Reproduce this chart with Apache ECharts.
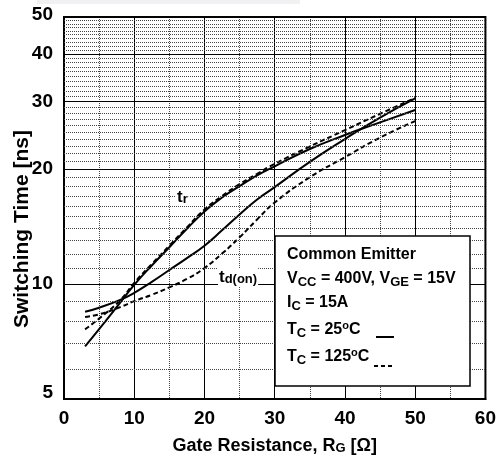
<!DOCTYPE html>
<html>
<head>
<meta charset="utf-8">
<script src="https://cdn.jsdelivr.net/npm/echarts@6/dist/echarts.min.js"></script>
<style>
html, body { margin: 0; padding: 0; background: #fff; }
#chart { width: 499px; height: 460px; }
</style>
</head>
<body>
<div id="chart"></div>
<script>
// gate resistance [ohm]
var rg = [3, 5, 8, 10, 12.5, 15, 17.5, 20, 22.5, 25, 27.5, 30, 35, 40, 45, 50];
// switching times [ns]
var trCold = [6.87, 7.62, 8.94, 9.95, 11.18, 12.48, 13.95, 15.49, 16.84, 18.04, 19.24, 20.33, 22.56, 24.55, 26.5, 28.55];
var trHot = [7.61, 8.12, 9.07, 10.07, 11.28, 12.6, 14.07, 15.67, 16.99, 18.26, 19.43, 20.63, 22.91, 25.28, 27.9, 30.7];
var tdonCold = [8.46, 8.67, 9.09, 9.48, 10.13, 10.88, 11.69, 12.6, 13.82, 15.21, 16.64, 17.93, 20.88, 23.96, 27.25, 30.6];
var tdonHot = [8.2, 8.33, 8.7, 9.02, 9.37, 9.8, 10.31, 11.01, 12.01, 13.25, 14.76, 16.34, 19.03, 21.48, 24.17, 26.7];
// y grid
var yMajor = [5, 10, 20, 30, 40, 50];
var yMinor = [6, 7, 8, 9, 11, 12, 13, 14, 15, 16, 17, 18, 19, 21, 22, 23, 24, 25, 26, 27, 28, 29,
    31, 32, 33, 34, 35, 36, 37, 38, 39, 41, 42, 43, 44, 45, 46, 47, 48, 49];

var F = '"Liberation Sans", Arial, sans-serif';
var chart = echarts.init(document.getElementById('chart'));

var zipXY = function(ys) {
    return rg.map(function(x, i) { return [x, ys[i]]; });
};
var curve = function(name, ys, dashed) {
    return {
        type: 'line',
        name: name,
        data: zipXY(ys),
        showSymbol: false,
        smooth: 0.5,
        silent: true,
        z: 3,
        lineStyle: { color: '#000', width: 2, type: dashed ? [5, 3] : 'solid' }
    };
};

// horizontal grid lines + tick labels
var gridLines = [];
yMinor.forEach(function(v) {
    gridLines.push({ yAxis: v, lineStyle: { color: '#444', width: 1, type: [1, 1] }, label: { show: false } });
});
yMajor.forEach(function(v) {
    var edge = (v === 5 || v === 50);
    gridLines.push({
        yAxis: v,
        lineStyle: { color: '#000', width: edge ? 2 : 1, type: 'solid' },
        label: {
            show: true, position: 'start', distance: 11,
            formatter: String(v), color: '#000',
            fontSize: 19, fontWeight: 'bold', fontFamily: F,
            offset: v === 5 ? [0, -6] : (v === 50 ? [0, -2] : [0, 0])
        }
    });
});

var bold = function(size, extra) {
    var o = { fontSize: size, fontWeight: 'bold', fontFamily: F, color: '#000' };
    for (var k in extra) o[k] = extra[k];
    return o;
};
var boxRich = {
    b: bold(16, { lineHeight: 20 }),
    s: bold(13, { lineHeight: 10, verticalAlign: 'bottom' }),
    p: bold(11, { lineHeight: 10, verticalAlign: 'top' })
};
var boxText = function(txt, y) {
    return {
        type: 'text', x: 287, y: y, z: 101, silent: true,
        style: { text: txt, rich: boxRich, align: 'left', verticalAlign: 'middle' }
    };
};
var curveRich = {
    b: bold(17, { lineHeight: 18 }),
    s: bold(13, { lineHeight: 9, verticalAlign: 'bottom' })
};

var option = {
    animation: false,
    backgroundColor: '#fff',
    grid: { left: 64, right: 13, top: 17, bottom: 58, show: true, borderColor: '#000', borderWidth: 2 },
    xAxis: {
        type: 'value', min: 0, max: 60, interval: 10,
        axisLine: { show: true, lineStyle: { color: '#000', width: 2 } },
        axisTick: { show: false },
        axisLabel: { color: '#000', fontSize: 19, fontWeight: 'bold', fontFamily: F, margin: 10 },
        splitLine: { show: true, lineStyle: { color: '#000', width: 1 } },
        minorTick: { show: false, splitNumber: 2 },
        minorSplitLine: { show: true, lineStyle: { color: '#444', width: 1, type: [1, 1] } },
        name: 'Gate Resistance, R{s|G} [\u03A9]',
        nameLocation: 'middle', nameGap: 38,
        nameTextStyle: {
            fontSize: 18, fontWeight: 'bold', fontFamily: F, color: '#000',
            rich: { s: bold(13, { lineHeight: 10, verticalAlign: 'bottom' }) }
        }
    },
    yAxis: {
        type: 'log', logBase: 10, min: 5, max: 50,
        axisLine: { show: true, lineStyle: { color: '#000', width: 2 } },
        axisTick: { show: false },
        axisLabel: { show: false },
        splitLine: { show: false },
        name: 'Switching Time [ns]',
        nameLocation: 'middle', nameGap: 31, nameRotate: 90,
        nameTextStyle: { fontSize: 21, fontWeight: 'bold', fontFamily: F, color: '#000', padding: [0, 42, 0, 0] }
    },
    graphic: [
        { type: 'rect', shape: { x: 37, y: 0, width: 263, height: 4 }, style: { fill: '#f1f1f4' }, silent: true },
        {
            type: 'text', x: 176, y: 197, z: 50, silent: true,
            style: { text: '{b|t}{s|r}', align: 'left', verticalAlign: 'middle', backgroundColor: '#fff', padding: [0, 1], rich: curveRich }
        },
        {
            type: 'text', x: 218, y: 277, z: 50, silent: true,
            style: { text: '{b|t}{s|d(on)}', align: 'left', verticalAlign: 'middle', backgroundColor: '#fff', padding: [0, 1], rich: curveRich }
        },
        {
            type: 'rect', z: 100, silent: true,
            shape: { x: 275, y: 236, width: 195, height: 150 },
            style: { fill: '#fff', stroke: '#000', lineWidth: 1.5 }
        },
        boxText('{b|Common Emitter}', 255),
        boxText('{b|V}{s|CC}{b| = 400V, V}{s|GE}{b| = 15V}', 279),
        boxText('{b|I}{s|C}{b| = 15A}', 303),
        boxText('{b|T}{s|C}{b| = 25}{p|o}{b|C}', 330),
        boxText('{b|T}{s|C}{b| = 125}{p|o}{b|C}', 357),
        { type: 'line', z: 101, silent: true, shape: { x1: 376, y1: 337, x2: 394, y2: 337 }, style: { stroke: '#000', lineWidth: 2 } },
        { type: 'line', z: 101, silent: true, shape: { x1: 374, y1: 366, x2: 393, y2: 366 }, style: { stroke: '#000', lineWidth: 2, lineDash: [4, 3] } }
    ],
    series: [
        {
            type: 'line', name: 'grid', data: [[0, 5]], showSymbol: false, silent: true, z: 1,
            lineStyle: { width: 0 },
            markLine: { silent: true, symbol: ['none', 'none'], animation: false, label: { show: false }, data: gridLines }
        },
        curve('tr 25C', trCold, false),
        curve('tr 125C', trHot, true),
        curve('td(on) 25C', tdonCold, false),
        curve('td(on) 125C', tdonHot, true)
    ]
};
chart.setOption(option);
</script>
</body>
</html>
